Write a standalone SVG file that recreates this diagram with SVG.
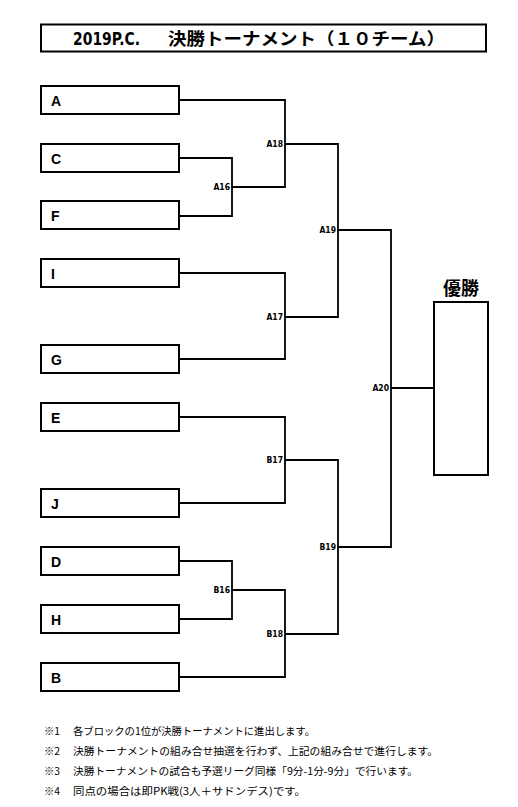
<svg xmlns="http://www.w3.org/2000/svg" width="518" height="807" viewBox="0 0 518 807">
<style>
.box{fill:#fff;stroke:#000;stroke-width:2}
.team{font-family:"Liberation Sans",Arial,sans-serif;font-weight:bold;font-size:14px;fill:#000}
.lbl{font-family:"DejaVu Sans Condensed","DejaVu Sans",sans-serif;font-weight:bold;font-size:8.5px;fill:#000;text-anchor:end}
.ln{fill:none;stroke:#000;stroke-width:1.8}
.note{font-family:"Noto Sans CJK JP","Noto Sans",sans-serif;font-size:10.3px;fill:#000}
.title{font-family:"Noto Sans CJK JP","Noto Sans",sans-serif;font-weight:bold;font-size:17px;fill:#000}
</style>
<rect width="518" height="807" fill="#fff"/>
<g id="title">
<rect x="41" y="24.5" width="445" height="27" class="box"/>
<text class="title" y="45"><tspan x="73" textLength="67" lengthAdjust="spacingAndGlyphs" font-family="DejaVu Sans Condensed,sans-serif">2019P.C.</tspan><tspan x="168" textLength="277" lengthAdjust="spacingAndGlyphs">決勝トーナメント（１０チーム）</tspan></text>
</g>
<g id="team-A"><rect x="41" y="86" width="138" height="28" class="box"/><text class="team" x="51" y="106">A</text></g>
<g id="team-C"><rect x="41" y="144" width="138" height="28" class="box"/><text class="team" x="51" y="164">C</text></g>
<g id="team-F"><rect x="41" y="201" width="138" height="28" class="box"/><text class="team" x="51" y="221">F</text></g>
<g id="team-I"><rect x="41" y="259" width="138" height="28" class="box"/><text class="team" x="51" y="279">I</text></g>
<g id="team-G"><rect x="41" y="345" width="138" height="28" class="box"/><text class="team" x="51" y="365">G</text></g>
<g id="team-E"><rect x="41" y="403" width="138" height="28" class="box"/><text class="team" x="51" y="423">E</text></g>
<g id="team-J"><rect x="41" y="489" width="138" height="28" class="box"/><text class="team" x="51" y="509">J</text></g>
<g id="team-D"><rect x="41" y="547" width="138" height="28" class="box"/><text class="team" x="51" y="567">D</text></g>
<g id="team-H"><rect x="41" y="605" width="138" height="28" class="box"/><text class="team" x="51" y="625">H</text></g>
<g id="team-B"><rect x="41" y="663" width="138" height="28" class="box"/><text class="team" x="51" y="683">B</text></g>
<g id="winner">
<rect x="434" y="302" width="54" height="173" class="box"/>
<text x="461" y="295" text-anchor="middle" font-family="Noto Sans CJK JP,sans-serif" font-weight="bold" font-size="18">優勝</text>
</g>
<g id="connectors">
<path class="ln" d="M179 100H285V187H232"/>
<path class="ln" d="M179 158H232V216H179"/>
<path class="ln" d="M285 144H338V317H285"/>
<path class="ln" d="M179 273H285V359H179"/>
<path class="ln" d="M338 230H391V547H338"/>
<path class="ln" d="M391 388H434"/>
<path class="ln" d="M179 417H285V503H179"/>
<path class="ln" d="M285 460H338V634H285"/>
<path class="ln" d="M179 561H232V619H179"/>
<path class="ln" d="M232 590H285V677H179"/>
</g>
<g id="labels">
<text class="lbl" x="283" y="147">A18</text>
<text class="lbl" x="230" y="190">A16</text>
<text class="lbl" x="336" y="233">A19</text>
<text class="lbl" x="283" y="320">A17</text>
<text class="lbl" x="389" y="391">A20</text>
<text class="lbl" x="283" y="463">B17</text>
<text class="lbl" x="336" y="550">B19</text>
<text class="lbl" x="230" y="593">B16</text>
<text class="lbl" x="283" y="637">B18</text>
</g>
<g id="notes">
<text class="note" x="44" y="734.5">※1</text>
<text class="note" x="73" y="734.5" textLength="242" lengthAdjust="spacingAndGlyphs">各ブロックの1位が決勝トーナメントに進出します。</text>
<text class="note" x="44" y="755">※2</text>
<text class="note" x="73" y="755" textLength="365" lengthAdjust="spacingAndGlyphs">決勝トーナメントの組み合せ抽選を行わず、上記の組み合せで進行します。</text>
<text class="note" x="44" y="775">※3</text>
<text class="note" x="73" y="775" textLength="345" lengthAdjust="spacingAndGlyphs">決勝トーナメントの試合も予選リーグ同様「9分-1分-9分」で行います。</text>
<text class="note" x="44" y="794.5">※4</text>
<text class="note" x="73" y="794.5" textLength="233" lengthAdjust="spacingAndGlyphs">同点の場合は即PK戦(3人＋サドンデス)です。</text>
</g>
</svg>
